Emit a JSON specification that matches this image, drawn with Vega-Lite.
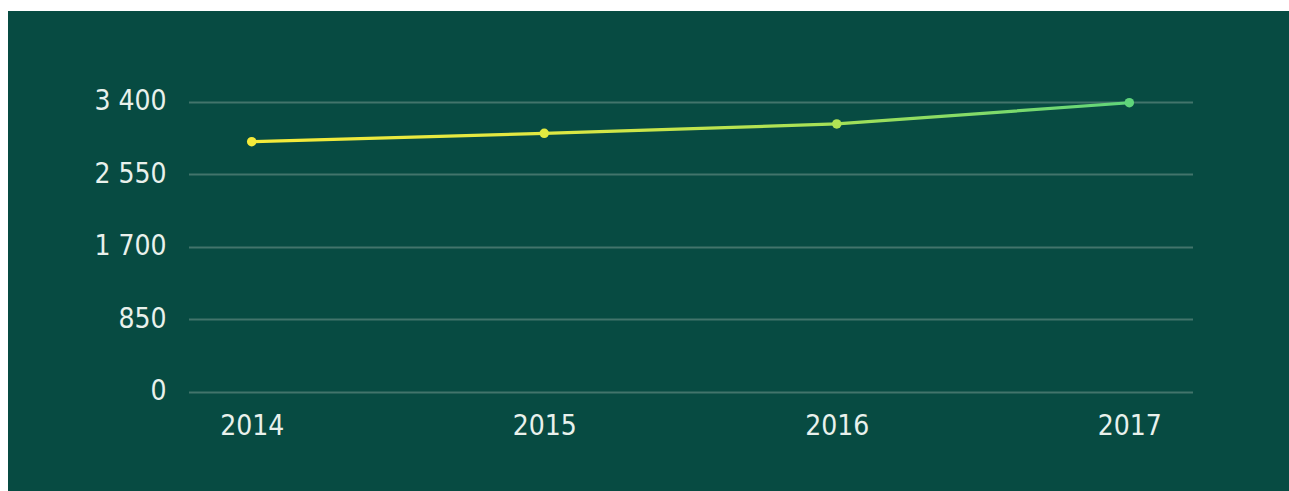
{
  "$schema": "https://vega.github.io/schema/vega-lite/v6.json",
  "autosize": "none",
  "width": 1281,
  "height": 480,
  "padding": {"left": 8, "top": 11, "right": 0, "bottom": 0},
  "background": "#ffffff",
  "config": {
    "view": {"fill": "#074b42", "stroke": null},
    "axis": {
      "labelFont": "DejaVu Sans Condensed, Roboto, sans-serif",
      "labelFontSize": 28,
      "labelColor": "#e9f1ec",
      "domain": false,
      "ticks": false,
      "tickSize": 0,
      "title": null
    }
  },
  "data": {
    "values": [
      {"year": "2014", "value": 2931},
      {"year": "2015", "value": 3029},
      {"year": "2016", "value": 3139},
      {"year": "2017", "value": 3388}
    ]
  },
  "encoding": {
    "x": {
      "field": "year",
      "type": "ordinal",
      "scale": {"type": "point", "range": [180.5, 1184.5], "padding": 0.216},
      "axis": {"labelAngle": 0, "labelBaseline": "middle", "labelPadding": -65, "grid": false}
    },
    "y": {
      "field": "value",
      "type": "quantitative",
      "scale": {"domain": [0, 3400], "range": [380.7, 90.7], "nice": false},
      "axis": {
        "values": [0, 850, 1700, 2550, 3400],
        "labelExpr": "replace(format(datum.value, ','), ',', ' ')",
        "labelAlign": "right",
        "labelPadding": -158,
        "grid": true,
        "gridColor": "#42746b",
        "gridWidth": 1.8
      }
    }
  },
  "layer": [
    {
      "mark": {
        "type": "line",
        "strokeWidth": 3.2,
        "color": {
          "gradient": "linear",
          "x1": 0, "x2": 1, "y1": 0, "y2": 0,
          "stops": [
            {"offset": 0, "color": "#f5ea3a"},
            {"offset": 0.33, "color": "#e0e842"},
            {"offset": 0.67, "color": "#a3e058"},
            {"offset": 1, "color": "#5fd57b"}
          ]
        }
      }
    },
    {
      "mark": {"type": "point", "filled": true, "size": 90, "opacity": 1},
      "encoding": {
        "color": {
          "field": "year",
          "type": "nominal",
          "scale": {"range": ["#f5ea3a", "#e3e940", "#b0e254", "#5fd57b"]},
          "legend": null
        }
      }
    }
  ]
}
